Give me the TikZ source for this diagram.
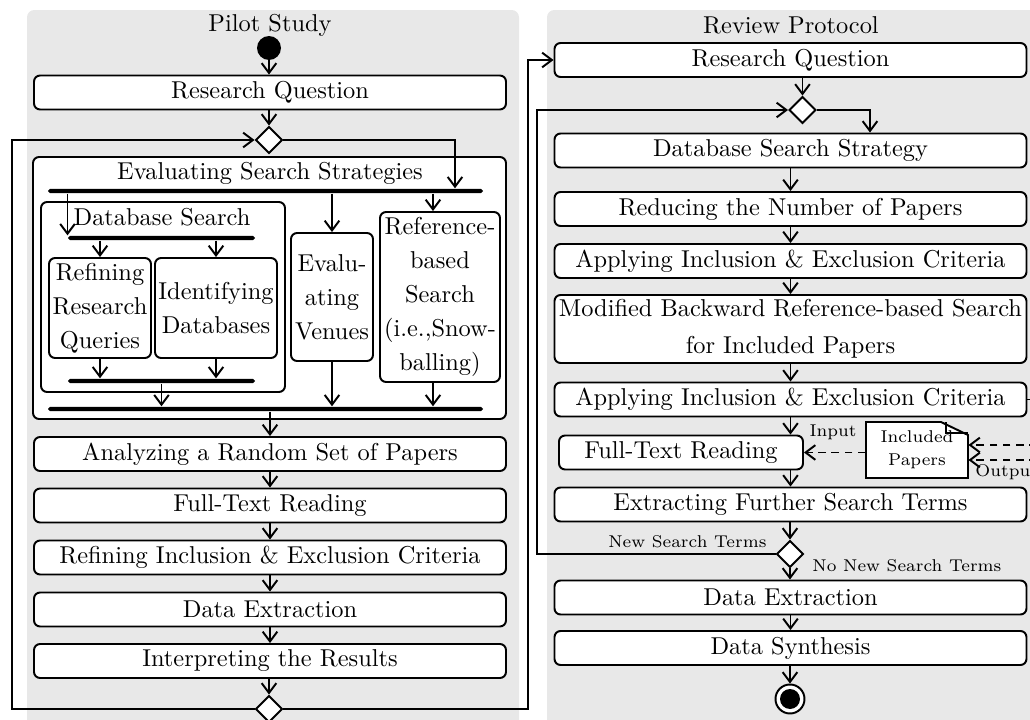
\documentclass[tikz,border=0pt]{standalone}
\usetikzlibrary{shapes.geometric,arrows.meta,calc}
\begin{document}
\begin{tikzpicture}[x=0.41pt,y=-0.41pt,
  arr/.style={-{Straight Barb[length=4pt,width=6pt]}, line width=0.8pt},
  box/.style={draw, line width=0.8pt, rounded corners=2.5pt, fill=white, inner sep=0pt, minimum width=472*0.41pt, minimum height=34*0.41pt, align=center},
  bar/.style={fill=black, rounded corners=0.8pt, inner sep=0pt, minimum height=1.8pt, minimum width=#1*0.41pt},
  dec/.style={diamond, draw, fill=white, line width=0.8pt, inner sep=0pt, minimum width=27*0.41pt, minimum height=27*0.41pt},
  lane/.style={fill=black!9, rounded corners=3pt},
  small/.style={font=\scriptsize, inner sep=0pt},
  dsh/.style={dash pattern=on 3.2pt off 2.2pt},
]
\useasboundingbox (0,0) rectangle (1030,720);
\clip (0,0) rectangle (1030,720);
% lanes
\fill[lane] (27,10) rectangle (519,735);
\fill[lane] (547,10) rectangle (1050,735);
\node (pilotT) at (270,25) {Pilot Study};
\node (revT) at (791,25) {Review Protocol};

% ---------- left lane ----------
\node[circle, fill=black, minimum size=24*0.41pt, inner sep=0pt] (start) at (269,48) {};
\node[box] (rq1) at (270,92.5) {Research Question};
\node[dec] (d1) at (269,140) {};
\node[box, minimum width=473*0.41pt, minimum height=262*0.41pt] (ess) at (269.5,288) {};
\node (essT) at (270,173) {Evaluating Search Strategies};
\node[bar=435] (tfork) at (265.5,191) {};
\node[box, minimum width=244*0.41pt, minimum height=190*0.41pt] (dbs) at (163,297) {};
\node (dbsT) at (162,217) {Database Search};
\node[bar=187] (ifork) at (161.5,238) {};
\node[box, minimum width=102*0.41pt, minimum height=100*0.41pt] (ref) at (100,308) {Refining\\[2pt]Research\\[2pt]Queries};
\node[box, minimum width=122*0.41pt, minimum height=100*0.41pt] (idb) at (216,308) {Identifying\\[2pt]Databases};
\node[bar=187] (ijoin) at (161.5,381) {};
\node[box, minimum width=82*0.41pt, minimum height=128*0.41pt] (ven) at (332,297) {Evalu-\\[2pt]ating\\[2pt]Venues};
\node[box, minimum width=120*0.41pt, minimum height=170*0.41pt] (rbs) at (440,297) {Reference-\\[2pt]based\\[2pt]Search\\[2pt](i.e.,Snow-\\[2pt]balling)};
\node[bar=435] (ojoin) at (265.5,409) {};
\node[box] (ana) at (270,454) {Analyzing a Random Set of Papers};
\node[box] (ftr1) at (270,505.5) {Full-Text Reading};
\node[box] (rie) at (270,557.5) {Refining Inclusion \& Exclusion Criteria};
\node[box] (de1) at (270,609.5) {Data Extraction};
\node[box] (irs) at (270,661) {Interpreting the Results};
\node[dec] (d0) at (269,709) {};

\coordinate (tin) at (455,0);
\coordinate (rbsx) at (433,0);
\coordinate (loopL) at (12,0);
\coordinate (loopR) at (528,0);

\draw[arr] (start.south) -- (start.south |- rq1.north);
\draw[arr] (rq1.south -| d1) -- (d1.north);
\draw[arr] (d1.east) -| (tin |- tfork.north);
\draw[arr] (ifork.north west |- tfork.south) -- (ifork.north west);
\draw[arr] (tfork.south -| ven.north) -- (ven.north);
\draw[arr] (rbsx |- tfork.south) -- (rbsx |- rbs.north);
\draw[arr] (ifork.south -| ref.north) -- (ref.north);
\draw[arr] (ifork.south -| idb.north) -- (idb.north);
\draw[arr] (ref.south) -- (ref.south |- ijoin.north);
\draw[arr] (idb.south) -- (idb.south |- ijoin.north);
\draw[arr] (ijoin.south) -- (ijoin.south |- ojoin.north);
\draw[arr] (ven.south) -- (ven.south |- ojoin.north);
\draw[arr] (rbsx |- rbs.south) -- (rbsx |- ojoin.north);
\draw[arr] (ana.north |- ojoin.south) -- (ana.north);
\draw[arr] (ana.south) -- (ftr1.north);
\draw[arr] (ftr1.south) -- (rie.north);
\draw[arr] (rie.south) -- (de1.north);
\draw[arr] (de1.south) -- (irs.north);
\draw[arr] (irs.south -| d0) -- (d0.north);
\draw[arr] (d0.west) -| (loopL |- d1.west) -- (d1.west);

% ---------- right lane ----------
\node[box] (rq2) at (790.5,60) {Research Question};
\node[dec] (d2) at (802.5,110) {};
\node[box] (dss) at (790.5,150.5) {Database Search Strategy};
\node[box] (rnp) at (790.5,209) {Reducing the Number of Papers};
\node[box] (aie1) at (790.5,261) {Applying Inclusion \& Exclusion Criteria};
\node[box, minimum height=68*0.41pt] (mbr) at (790.5,329) {Modified Backward Reference-based Search\\[3pt]for Included Papers};
\node[box] (aie2) at (790.5,399.5) {Applying Inclusion \& Exclusion Criteria};
\node[box, minimum width=244*0.41pt] (ftr2) at (681,452.5) {Full-Text Reading};
\filldraw[fill=white, line width=0.8pt] (866,422) -- (941,422) -- (968,435) -- (968,478) -- (866,478) -- cycle;
\draw[line width=0.7pt] (946,422) -- (946,433) -- (968,433);
\node[small, minimum width=102*0.41pt, minimum height=56*0.41pt, align=center] (inc) at (917,450) {Included\\[1.5pt]Papers};
\node[box] (efst) at (790.5,504.5) {Extracting Further Search Terms};
\node[dec] (d3) at (790,554) {};
\node[box] (de2) at (790.5,597.5) {Data Extraction};
\node[box] (dsy) at (790.5,648) {Data Synthesis};
\node[circle, draw, line width=0.8pt, fill=white, minimum size=29*0.41pt, inner sep=0pt] (end) at (790,699) {};
\node[circle, fill=black, minimum size=20*0.41pt, inner sep=0pt] (endin) at (end) {};

\coordinate (dssx) at (870,0);
\coordinate (loopR2) at (537,0);
\coordinate (offA) at (1050,445);
\coordinate (offB) at (1050,460);

\draw[arr] (d0.east) -| (loopR |- rq2.west) -- (rq2.west);
\draw[arr] (rq2.south -| d2) -- (d2.north);
\draw[arr] (d2.east) -| (dssx |- dss.north);
\draw[arr] (dss.south) -- (rnp.north);
\draw[arr] (rnp.south) -- (aie1.north);
\draw[arr] (aie1.south) -- (mbr.north);
\draw[arr] (mbr.south) -- (aie2.north);
\draw[arr] (aie2.south) -- (aie2.south |- ftr2.north);
\draw[arr] (aie2.south |- ftr2.south) -- (efst.north);
\draw[arr] (efst.south -| d3) -- (d3.north);
\draw[arr] (d3.south) -- (d3.south |- de2.north);
\draw[arr] (de2.south) -- (dsy.north);
\draw[arr] (dsy.south -| end) -- (end.north);
\draw[arr] (d3.west) -| (loopR2 |- d2.west) -- (d2.west);

\draw[arr, dsh] (inc.west |- ftr2.east) -- (ftr2.east);
\draw[line width=0.8pt] (aie2.east) -- ++(10,0);
\draw[arr, dsh] (offA) -- (offA -| inc.east);
\draw[arr, dsh] (offB) -- (offB -| inc.east);

\node[small] (inL) at (833,432) {Input};
\node[small, anchor=west] (outL) at (975,472) {Output};
\node[small, anchor=east] (nstL) at (767,542) {New Search Terms};
\node[small, anchor=west] (nnstL) at (812,566) {No New Search Terms};
\end{tikzpicture}
\end{document}
